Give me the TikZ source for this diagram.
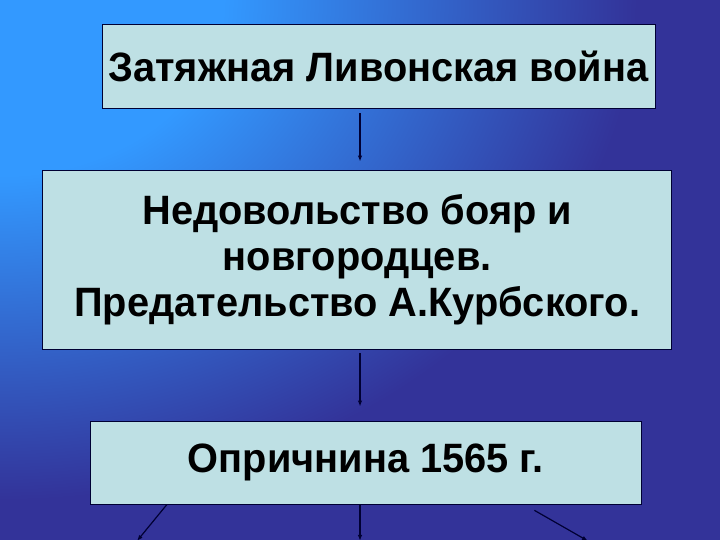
\documentclass[tikz,border=0pt]{standalone}
\usepackage{fontspec}
\setmainfont{Liberation Sans}[FakeStretch=0.97]
\usetikzlibrary{arrows.meta}

\definecolor{fondclair}{RGB}{51,153,255}
\definecolor{fondsombre}{RGB}{51,51,153}
\definecolor{boite}{RGB}{190,224,228}
\definecolor{trait}{RGB}{0,0,51}
% light corner top left --> dark everywhere else
\pgfdeclareradialshading{fond}{\pgfpointorigin}{color(0bp)=(fondclair); color(8.75bp)=(fondclair); color(25bp)=(fondsombre); color(50bp)=(fondsombre)}

\begin{document}
\begin{tikzpicture}[x=1pt,y=1pt,
box/.style = {draw = trait, line width = 0.8pt, fill = boite, align = center, inner sep = 0pt,
  font = \fontsize{41}{46}\selectfont\bfseries},
fleche/.style = {draw = trait, line width = 1.2pt, -{Latex[length=6pt,width=4.5pt]}}
]
\def\W{720} % width of the slide
\def\H{540} % height of the slide
\useasboundingbox (0,0) rectangle (\W,\H);

% background
\fill[fondsombre] (0,0) rectangle (\W,\H);
\begin{scope}
\clip (0,0) rectangle (\W,\H);
\shade[shading = fond] (0,\H) ellipse (637 and 500);
\end{scope}

\node[box, minimum width = 553, minimum height = 84] (guerre) at (378.5,474) {Затяжная Ливонская война};
\node[box, minimum width = 629, minimum height = 179] (trahison) at (357.2,280.5)
  {Недовольство бояр и\\новгородцев.\\Предательство А.Курбского.};
\node[box, minimum width = 551, minimum height = 83] (oprichnina) at (365.7,77.5) {Опричнина 1565 г.};

\coordinate (axe) at (360,0); % vertical arrows
\coordinate (xg) at (167,0);
\coordinate (xd) at (524,0);
\coordinate (gauche) at (137,-1);
\coordinate (milieu) at (360,-1);
\coordinate (droite) at (588,-1);

\draw[fleche, shorten <= 5pt, shorten >= 8pt] (guerre.south -| axe) -- (trahison.north -| axe);
\draw[fleche, shorten <= 4pt, shorten >= 14pt] (trahison.south -| axe) -- (oprichnina.north -| axe);
\draw[fleche] (oprichnina.south -| xg) -- (gauche);
\draw[fleche] (oprichnina.south -| axe) -- (milieu);
\draw[fleche, shorten <= 12pt] (oprichnina.south -| xd) -- (droite);
\end{tikzpicture}
\end{document}
